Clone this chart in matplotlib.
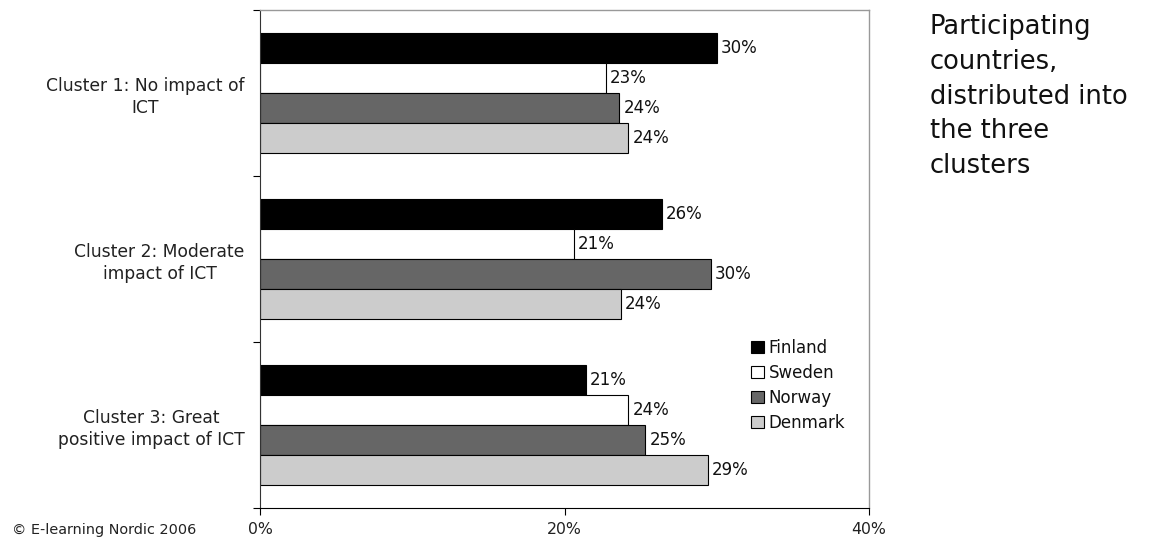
import matplotlib
matplotlib.use("Agg")
import matplotlib.pyplot as plt
import numpy as np
from matplotlib.patches import Patch

clusters = ["Cluster 1: No impact of\nICT", "Cluster 2: Moderate\nimpact of ICT", "Cluster 3: Great\npositive impact of ICT"]
countries = ["Finland", "Sweden", "Norway", "Denmark"]
finland = [30.0, 26.4, 21.4]
sweden = [22.7, 20.6, 24.2]
norway = [23.6, 29.6, 25.3]
denmark = [24.2, 23.7, 29.4]
series = [finland, sweden, norway, denmark]
colors = ["#000000", "#ffffff", "#666666", "#cccccc"]
xticks = [0, 20, 40]
xticklabels = ["0%", "20%", "40%"]

plt.rcParams['font.family'] = ['DejaVu Sans']
fig = plt.figure(figsize=(11.49, 5.40), dpi=100)
ax = fig.add_axes([260/1149, 1-508/540, (869-260)/1149, (508-10)/540])

h = 0.182
y = np.arange(len(clusters))
for i, (vals, c) in enumerate(zip(series, colors)):
    pos = y + (i - 1.5) * h
    bars = ax.barh(pos, vals, height=h, color=c, edgecolor="black", linewidth=0.8, label=countries[i])
    for b, v in zip(bars, vals):
        ax.annotate(f"{round(v)}%", (v, b.get_y() + b.get_height()/2), xytext=(3, 0),
                    textcoords="offset points", va="center", ha="left", fontsize=12,
                    color="#111111")

ax.set_xlim(0, 40)
ax.set_ylim(2.5, -0.5)
ax.set_xticks(xticks)
ax.set_xticklabels(xticklabels, fontsize=11.3, color="#222222")
ax.tick_params(axis='x', direction='out', length=5, width=0.8, pad=5)

ax.set_yticks([-0.5, 0.5, 1.5, 2.5])
ax.set_yticklabels([])
ax.tick_params(axis='y', which='major', direction='out', length=5, width=0.8)
ax.set_yticks(y, minor=True)
ax.set_yticklabels(clusters, minor=True, fontsize=12.3, multialignment='center', color="#222222",
                   linespacing=1.3)
ax.tick_params(axis='y', which='minor', length=0, pad=11)

for s in ['top', 'right']:
    ax.spines[s].set_color('#999999')
    ax.spines[s].set_linewidth(1.0)
ax.spines['left'].set_color('#333333')
ax.spines['bottom'].set_color('black')

handles = [Patch(facecolor=c, edgecolor='black', linewidth=0.8) for c in colors]
leg = ax.legend(handles, countries, loc='upper left', bbox_to_anchor=(751/1149, 1-339/540),
                bbox_transform=fig.transFigure, frameon=False, fontsize=12,
                handlelength=0.75, handleheight=0.75, handletextpad=0.3, labelspacing=0.42,
                borderpad=0, borderaxespad=0)
for t in leg.get_texts():
    t.set_color("#111111")

fig.text(930/1149, 1-14/540, "Participating\ncountries,\ndistributed into\nthe three\nclusters",
         fontsize=18.5, va='top', ha='left', linespacing=1.44, color="#111111")
fig.text(12/1149, 1-530/540, "© E-learning Nordic 2006", fontsize=10.4, va='center', ha='left',
         color="#222222")

fig.savefig("out.png", dpi=100)
